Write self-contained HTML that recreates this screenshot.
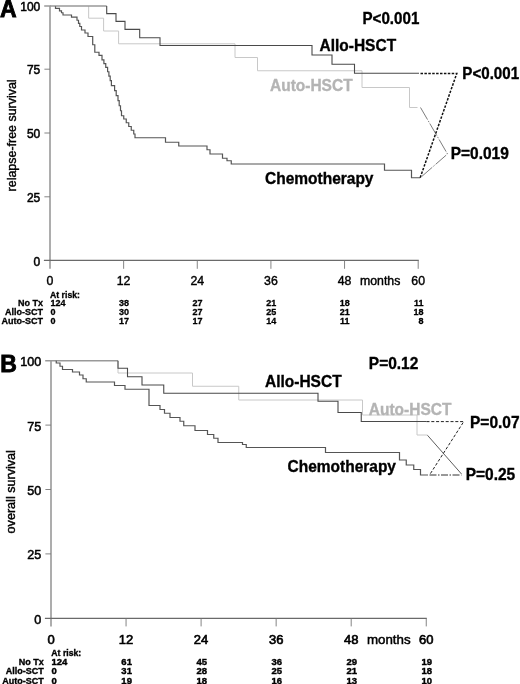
<!DOCTYPE html>
<html><head><meta charset="utf-8"><title>Figure</title>
<style>
html,body{margin:0;padding:0;background:#fff;}
body{width:520px;height:684px;overflow:hidden;}
svg{display:block;}
text{font-family:"Liberation Sans",Arial,Helvetica,sans-serif;fill:#000;}
.b{font-weight:bold;font-size:16.2px;stroke:#000;stroke-width:.35px;}
.n{stroke:#000;stroke-width:.4px;}
.g{fill:#b4b4b4;stroke:#b4b4b4;}
.t{font-size:9px;font-weight:bold;stroke:#000;stroke-width:.3px;}
.tb{font-size:9px;font-weight:bold;stroke:#000;stroke-width:.35px;}
.tn{font-size:9.5px;font-weight:bold;stroke:#000;stroke-width:.4px;}
.av{stroke:#999;stroke-width:1.6;fill:none;}
.ah{stroke:#6a6a6a;stroke-width:1.15;fill:none;}
.tk{stroke:#777;stroke-width:.9;fill:none;}
.c{stroke:#555;stroke-width:1.2;fill:none;}
.a{stroke:#4a4a4a;stroke-width:1.1;fill:none;}
.u{stroke:#c8c8c8;stroke-width:1;fill:none;}
</style></head><body>
<svg width="520" height="684" viewBox="0 0 520 684">
<rect width="520" height="684" fill="#fff"/>

<path class="av" d="M50.0,5.2V268.8M44.2,6H50.0"/>
<path class="ah" d="M43.9,260.4H418.8"/>
<path class="tk" d="M44.4,69.2H50.0M44.4,133.0H50.0M44.4,196.8H50.0"/>
<path class="tk" d="M123.64,260.4V268.8M197.28,260.4V268.8M270.92,260.4V268.8M344.56,260.4V268.8M418.20,260.4V268.8"/>
<path class="u" d="M88.65,6H88.65V18.2H103.6V31H118.6V43.8H235V57.5H257.5V70.75H362V87.5H409.5V107.5H417.5"/>
<path class="av" d="M50.0,6H106.7"/>
<path class="a" d="M106.7,6H106.7V13.6H116V21.4H125V29.4H139.7V37.8H160V45.5H312V55H332V64.25H354.5V73.25H419"/>
<path class="c" transform="translate(0,.25)" d="M55.5,6H55.5V8.2H59.5V10.6H61.5V12.5H63V14.75H71.5V16.9H77V20H78.5V23.1H79.8V26.25H81.5V29.75H85V32.75H88V36.25H92.7V44.5H94.8V52H99V55.2H102V59.6H103.9V63.3H105.75V67.1H107.6V71.5H108.9V75.9H110.2V80.3H111.4V85.3H114.6V90.4H116.2V95.4H118V100.4H119.2V105.5H120.5V110.5H121.5V115.5H123.75V118.75H126.25V122.5H128.75V126.25H131.25V130H133.75V133.75H135V137.5H165.5V142H178.75V145.75H207V149.5H210V153.75H222.5V158H227V160.5H231.25V163.75H384.5V170H411.5V177.5H420"/>
<path d="M420.5,73.4H456.8L420,178.2" stroke="#111" stroke-width="1.5" stroke-dasharray="2.5,1.4" fill="none"/>
<path d="M420.5,107.5L447.5,154L420,178" stroke="#444" stroke-width=".7" stroke-dasharray="14,1.5,1.5,1.5" fill="none"/>
<text x="0" y="16.8" style="font-weight:bold;font-size:23px;stroke:#000;stroke-width:.85px">A</text>
<text x="40.3" y="10.6" class="n" text-anchor="end" style="font-size:12px;stroke-width:.5px">100</text>
<text x="40.3" y="74.4" class="n" text-anchor="end" style="font-size:12px;stroke-width:.5px">75</text>
<text x="40.3" y="138.1" class="n" text-anchor="end" style="font-size:12px;stroke-width:.5px">50</text>
<text x="40.3" y="201.9" class="n" text-anchor="end" style="font-size:12px;stroke-width:.5px">25</text>
<text x="40.3" y="265.6" class="n" text-anchor="end" style="font-size:12px;stroke-width:.5px">0</text>
<text x="50.00" y="284.6" class="n" text-anchor="middle" style="font-size:12.3px">0</text>
<text x="123.64" y="284.6" class="n" text-anchor="middle" style="font-size:12.3px">12</text>
<text x="197.28" y="284.6" class="n" text-anchor="middle" style="font-size:12.3px">24</text>
<text x="270.92" y="284.6" class="n" text-anchor="middle" style="font-size:12.3px">36</text>
<text x="344.56" y="284.6" class="n" text-anchor="middle" style="font-size:12.3px">48</text>
<text x="418.20" y="284.6" class="n" text-anchor="middle" style="font-size:12.3px">60</text>
<text class="n" x="360" y="284.6" style="font-size:12.3px">months</text>
<text class="n" transform="translate(16.4,191.4) rotate(-90)" style="font-size:12.45px">relapse-free survival</text>
<text class="b" transform="translate(362.5,23.8) scale(.935,1)">P&lt;0.001</text>
<text class="b" transform="translate(319.5,51.2) scale(.957,1)">Allo-HSCT</text>
<text class="b g" transform="translate(270,91.2) scale(.957,1)">Auto-HSCT</text>
<text class="b" transform="translate(265,183.8) scale(.957,1)">Chemotherapy</text>
<text class="b" transform="translate(462.3,78.8) scale(.935,1)">P&lt;0.001</text>
<text class="b" transform="translate(450.7,158.8) scale(.957,1)">P=0.019</text>
<text class="t" x="50" y="297.6" style="font-size:8.7px">At risk:</text>
<text class="t" x="43" y="306.3" text-anchor="end">No Tx</text>
<text class="t" x="50.5" y="306.3">124</text>
<text class="t" x="123.94" y="306.3" text-anchor="middle">38</text>
<text class="t" x="197.58" y="306.3" text-anchor="middle">27</text>
<text class="t" x="271.22" y="306.3" text-anchor="middle">21</text>
<text class="t" x="344.86" y="306.3" text-anchor="middle">18</text>
<text class="t" x="423.6" y="306.3" text-anchor="end">11</text>
<text class="t" x="43" y="315.2" text-anchor="end">Allo-SCT</text>
<text class="t" x="50.5" y="315.2">0</text>
<text class="t" x="123.94" y="315.2" text-anchor="middle">30</text>
<text class="t" x="197.58" y="315.2" text-anchor="middle">27</text>
<text class="t" x="271.22" y="315.2" text-anchor="middle">25</text>
<text class="t" x="344.86" y="315.2" text-anchor="middle">21</text>
<text class="t" x="423.6" y="315.2" text-anchor="end">18</text>
<text class="t" x="43" y="324.3" text-anchor="end">Auto-SCT</text>
<text class="t" x="50.5" y="324.3">0</text>
<text class="t" x="123.94" y="324.3" text-anchor="middle">17</text>
<text class="t" x="197.58" y="324.3" text-anchor="middle">17</text>
<text class="t" x="271.22" y="324.3" text-anchor="middle">14</text>
<text class="t" x="344.86" y="324.3" text-anchor="middle">11</text>
<text class="t" x="423.6" y="324.3" text-anchor="end">8</text>
<path class="av" d="M51.0,359.95V626.4M45.2,360.75H51.0"/>
<path class="ah" d="M44.9,618.3H426.8"/>
<path class="tk" d="M45.4,425.1H51.0M45.4,489.5H51.0M45.4,553.9H51.0"/>
<path class="tk" d="M126.05,618.3V626.4M201.10,618.3V626.4M276.15,618.3V626.4M351.20,618.3V626.4M426.25,618.3V626.4"/>
<path class="u" d="M118,360.75H118V373H192.5V386.25H238.75V400H362.5V415H417V435H427.5"/>
<path class="av" d="M51.0,360.75H118"/>
<path class="a" d="M118,360.75H118V368.25H127.5V376.75H142V385H163.75V393.25H318V401.25H338V412.5H361.25V421.5H426.5"/>
<path class="c" d="M56.25,360.75H56.25V363H60V366.25H62.5V369.5H72.5V372H79.5V375H83V378.75H86.25V382H114.5V385.5H125V389.25H149V405.5H160V409.5H164.5V413.25H170V417.5H180V421.25H183.75V425.75H195V430.5H207.5V434.5H213.75V438.25H218V442.5H242.5V444.5H246.25V447.5H325.5V452.5H399.5V460H406.25V465H413.75V469.5H420.5V475H428"/>
<path d="M426.5,421.6H463.75L429.5,475" stroke="#222" stroke-width="1" stroke-dasharray="3,1.8" fill="none"/>
<path d="M429.5,475H461.5" stroke="#333" stroke-width="1" stroke-dasharray="7,1.5,1.5,1.5" fill="none"/>
<path d="M427.5,435.3L461.5,474" stroke="#333" stroke-width=".8" fill="none"/>
<text x="0.2" y="371.7" style="font-weight:bold;font-size:23px;stroke:#000;stroke-width:.85px">B</text>
<text x="41.3" y="366.4" class="n" text-anchor="end" style="font-size:12.6px;stroke-width:.5px">100</text>
<text x="41.3" y="430.6" class="n" text-anchor="end" style="font-size:12.6px;stroke-width:.5px">75</text>
<text x="41.3" y="494.9" class="n" text-anchor="end" style="font-size:12.6px;stroke-width:.5px">50</text>
<text x="41.3" y="559.2" class="n" text-anchor="end" style="font-size:12.6px;stroke-width:.5px">25</text>
<text x="41.3" y="623.5" class="n" text-anchor="end" style="font-size:12.6px;stroke-width:.5px">0</text>
<text x="51.00" y="643.6" class="n" text-anchor="middle" style="font-size:13px;stroke-width:.65px">0</text>
<text x="126.05" y="643.6" class="n" text-anchor="middle" style="font-size:13px;stroke-width:.65px">12</text>
<text x="201.10" y="643.6" class="n" text-anchor="middle" style="font-size:13px;stroke-width:.65px">24</text>
<text x="276.15" y="643.6" class="n" text-anchor="middle" style="font-size:13px;stroke-width:.65px">36</text>
<text x="351.20" y="643.6" class="n" text-anchor="middle" style="font-size:13px;stroke-width:.65px">48</text>
<text x="426.25" y="643.6" class="n" text-anchor="middle" style="font-size:13px;stroke-width:.65px">60</text>
<text class="n" x="367" y="643.6" style="font-size:13.3px;stroke-width:.5px">months</text>
<text class="n" transform="translate(14.8,533.4) rotate(-90)" style="font-size:12.6px">overall survival</text>
<text class="b" transform="translate(368.8,368.8) scale(.957,1)">P=0.12</text>
<text class="b" transform="translate(265,387.2) scale(.957,1)">Allo-HSCT</text>
<text class="b g" transform="translate(368.8,414.6) scale(.957,1)">Auto-HSCT</text>
<text class="b" transform="translate(287.5,472.4) scale(.957,1)">Chemotherapy</text>
<text class="b" transform="translate(470,427.6) scale(.957,1)">P=0.07</text>
<text class="b" transform="translate(465.7,480) scale(.957,1)">P=0.25</text>
<text class="tb" x="51.3" y="655.5" style="font-size:8.7px">At risk:</text>
<text class="tb" x="43.8" y="664.5" text-anchor="end">No Tx</text>
<text class="tn" x="51.5" y="664.5">124</text>
<text class="tn" x="126.65" y="664.5" text-anchor="middle">61</text>
<text class="tn" x="201.70" y="664.5" text-anchor="middle">45</text>
<text class="tn" x="276.75" y="664.5" text-anchor="middle">36</text>
<text class="tn" x="351.80" y="664.5" text-anchor="middle">29</text>
<text class="tn" x="426.85" y="664.5" text-anchor="middle">19</text>
<text class="tb" x="43.8" y="674.1" text-anchor="end">Allo-SCT</text>
<text class="tn" x="51.5" y="674.1">0</text>
<text class="tn" x="126.65" y="674.1" text-anchor="middle">31</text>
<text class="tn" x="201.70" y="674.1" text-anchor="middle">28</text>
<text class="tn" x="276.75" y="674.1" text-anchor="middle">25</text>
<text class="tn" x="351.80" y="674.1" text-anchor="middle">21</text>
<text class="tn" x="426.85" y="674.1" text-anchor="middle">18</text>
<text class="tb" x="43.8" y="683.5" text-anchor="end">Auto-SCT</text>
<text class="tn" x="51.5" y="683.5">0</text>
<text class="tn" x="126.65" y="683.5" text-anchor="middle">19</text>
<text class="tn" x="201.70" y="683.5" text-anchor="middle">18</text>
<text class="tn" x="276.75" y="683.5" text-anchor="middle">16</text>
<text class="tn" x="351.80" y="683.5" text-anchor="middle">13</text>
<text class="tn" x="426.85" y="683.5" text-anchor="middle">10</text>
</svg></body></html>
